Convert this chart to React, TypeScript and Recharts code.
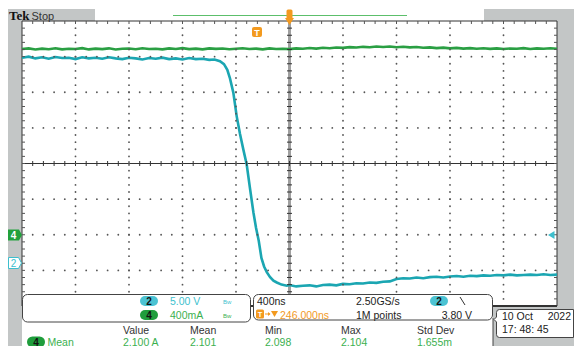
import React from "react";
import { ComposedChart, Line, XAxis, YAxis, ReferenceLine, Scatter } from "recharts";

// ---- Channel 2 (voltage, 5.00 V/div) ----
const ch2TimeNs = [
  0, 50, 100, 150, 200, 250, 300, 350, 400, 450, 500, 550, 600, 650, 700, 750, 800, 850, 900, 950,
  1000, 1050, 1100, 1150, 1200, 1250, 1300, 1350, 1400, 1440, 1480, 1510, 1535, 1555, 1580, 1605,
  1630, 1655, 1680, 1705, 1730, 1750, 1770, 1790, 1810, 1830, 1855, 1880, 1905, 1940, 1980, 2000,
  2050, 2100, 2150, 2200, 2250, 2300, 2350, 2400, 2450, 2500, 2550, 2600, 2650, 2700, 2750, 2800,
  2850, 2900, 2950, 3000, 3050, 3100, 3150, 3200, 3250, 3300, 3350, 3400, 3450, 3500, 3550, 3600,
  3650, 3700, 3750, 3800, 3850, 3900, 3950, 4000,
];
const ch2Volts = [
  28.7, 28.85, 28.6, 28.75, 28.55, 28.8, 28.65, 28.7, 28.5, 28.75, 28.6, 28.7, 28.55, 28.75, 28.6, 28.5, 28.7, 28.6, 28.45, 28.65,
  28.55, 28.7, 28.5, 28.6, 28.45, 28.65, 28.5, 28.55, 28.4, 28.45, 28.2, 27.8, 27.0, 25.8, 23.8, 20.5,
  18.0, 15.8, 13.7, 10.3, 7.0, 4.8, 3.0, 0.6, -0.6, -1.4, -2.1, -2.6, -2.85, -3.15, -3.3, -3.2,
  -3.4, -3.3, -3.25, -3.4, -3.2, -3.15, -3.25, -3.05, -3.1, -2.95, -3.0, -2.85, -2.9, -2.75, -2.7, -2.35,
  -2.25, -2.3, -2.15, -2.25, -2.1, -2.05, -2.15, -2.0, -1.95, -2.05, -1.9, -1.95, -1.85, -1.9, -1.8, -1.85,
  -1.75, -1.85, -1.8, -1.75, -1.8, -1.7, -1.8, -1.75,
];

// ---- Channel 4 (current, 400 mA/div) ----
const ch4TimeNs = [
  0, 50, 100, 150, 200, 250, 300, 350, 400, 450, 500, 550, 600, 650, 700, 750, 800, 850, 900, 950,
  1000, 1050, 1100, 1150, 1200, 1250, 1300, 1350, 1400, 1450, 1500, 1550, 1600, 1650, 1700, 1750,
  1800, 1850, 1900, 1950, 2000, 2050, 2100, 2150, 2200, 2250, 2300, 2350, 2400, 2450, 2500, 2550,
  2600, 2650, 2700, 2750, 2800, 2850, 2900, 2950, 3000, 3050, 3100, 3150, 3200, 3250, 3300, 3350,
  3400, 3450, 3500, 3550, 3600, 3650, 3700, 3750, 3800, 3850, 3900, 3950, 4000,
];
const ch4Amps = [
  2.085, 2.092, 2.080, 2.090, 2.083, 2.094, 2.082, 2.089, 2.086, 2.095, 2.081, 2.090, 2.084, 2.093, 2.080, 2.088, 2.091, 2.083, 2.094, 2.085,
  2.089, 2.081, 2.092, 2.086, 2.095, 2.084, 2.090, 2.082, 2.093, 2.087, 2.091, 2.083, 2.089, 2.094, 2.085, 2.090,
  2.082, 2.092, 2.086, 2.089, 2.084, 2.093, 2.088, 2.096, 2.090, 2.099, 2.094, 2.103, 2.098, 2.107, 2.102, 2.110,
  2.105, 2.113, 2.108, 2.114, 2.106, 2.111, 2.104, 2.108, 2.100, 2.104, 2.096, 2.101, 2.093, 2.098, 2.090, 2.095,
  2.088, 2.094, 2.087, 2.093, 2.085, 2.092, 2.088, 2.095, 2.086, 2.093, 2.089, 2.094, 2.088,
];

// ---- Graticule (10 x 8 divisions, 400 ns/div) ----
const timeDomain = [0, 4000];
const divDomain = [-4, 4];
const ch2Domain = [-6.15, 33.85];
const ch4Domain = [-0.8, 2.4];
const majorTimeTicks = [400, 800, 1200, 1600, 2400, 2800, 3200, 3600];
const majorDivTicks = [-3, -2, -1, 1, 2, 3];
const minorTimeTicks = Array.from({ length: 49 }, (_, i) => (i + 1) * 80);
const minorDivTicks = Array.from({ length: 39 }, (_, i) => Math.round((-4 + (i + 1) * 0.2) * 10) / 10);

// ---- Readouts ----
const measureHeaders = ["Value", "Mean", "Min", "Max", "Std Dev"];
const measureValues = ["2.100 A", "2.101", "2.098", "2.104", "1.655m"];

const ch2Data = ch2TimeNs.map((t, i) => ({ t, v: ch2Volts[i] }));
const ch4Data = ch4TimeNs.map((t, i) => ({ t, a: ch4Amps[i] }));
const topTicks = minorTimeTicks.map((t) => ({ t, d: 4 }));
const centerHTicks = minorTimeTicks.map((t) => ({ t, d: 0 }));
const leftTicks = minorDivTicks.map((d) => ({ t: 0, d }));
const rightTicks = minorDivTicks.map((d) => ({ t: 4000, d }));
const centerVTicks = minorDivTicks.map((d) => ({ t: 2000, d }));
const vGridDots = majorTimeTicks.flatMap((t) => minorDivTicks.map((d) => ({ t, d })));
const hGridDots = majorDivTicks.flatMap((d) => minorTimeTicks.map((t) => ({ t, d })));

const GREY = "#c3c6c6";
const CYAN = "#1ba6b2";
const GREEN = "#2a9f43";
const CYAN_TXT = "#3dbfce";
const GREEN_TXT = "#3bb04f";
const ORANGE = "#f39a1f";
const FONT = "'Liberation Sans', Arial, sans-serif";
const TICK = "#555";
const DOT = "#555";

const tickDown = (p: any) => <line x1={p.cx} y1={p.cy} x2={p.cx} y2={p.cy + 3} stroke={TICK} strokeWidth={1} />;
const tickRight = (p: any) => <line x1={p.cx} y1={p.cy} x2={p.cx + 3} y2={p.cy} stroke={TICK} strokeWidth={1} />;
const tickLeft = (p: any) => <line x1={p.cx - 3} y1={p.cy} x2={p.cx} y2={p.cy} stroke={TICK} strokeWidth={1} />;
const tickV = (p: any) => <line x1={p.cx} y1={p.cy - 2.5} x2={p.cx} y2={p.cy + 2.5} stroke="#333" strokeWidth={1} />;
const tickH = (p: any) => <line x1={p.cx - 2.5} y1={p.cy} x2={p.cx + 2.5} y2={p.cy} stroke="#333" strokeWidth={1} />;
const gridDot = (p: any) => <circle cx={p.cx} cy={p.cy} r={0.9} fill={DOT} stroke="none" />;

function Background() {
  return (
    <svg width={574} height={346} style={{ position: "absolute", left: 0, top: 0 }}>
      <rect x={0} y={0} width={574} height={346} fill="#fff" />
      <rect x={8} y={9} width={566} height={337} fill={GREY} />
      <rect x={95} y={9} width={389} height={12} fill="#fff" />
      <rect x={22} y={21} width={535} height={285} fill="#fff" />
      <rect x={22} y={306} width={471} height={40} fill="#fff" />
    </svg>
  );
}

function Overlay() {
  const hx = [123, 190, 265, 341, 417];
  return (
    <svg width={574} height={346} style={{ position: "absolute", left: 0, top: 0 }}>
      {/* top bar */}
      <text x={9} y={20} fontFamily="'Liberation Serif', serif" fontWeight="bold" fontSize={13} fill="#111">Tek</text>
      <text x={31.5} y={19.5} fontFamily={FONT} fontSize={11} fill="#333">Stop</text>
      <line x1={173} y1={15.5} x2={407} y2={15.5} stroke="#5cbf6b" strokeWidth={1} />
      {/* trigger position marker */}
      <rect x={286.5} y={9.5} width={6} height={10} rx={1.5} fill={ORANGE} />
      <path d="M285,18 L294,18 L289.5,25 Z" fill={ORANGE} />
      <rect x={252} y={27} width={10} height={10} rx={2} fill={ORANGE} />
      <text x={257} y={35.5} textAnchor="middle" fontFamily={FONT} fontWeight="bold" fontSize={9} fill="#fff">T</text>
      {/* channel markers */}
      <path d="M8,229.5 L19,229.5 L22,235 L19,240.5 L8,240.5 Z" fill="#22a13c" />
      <text x={13.5} y={239} textAnchor="middle" fontFamily={FONT} fontWeight="bold" fontSize={10} fill="#fff">4</text>
      <path d="M8.5,257.5 L18.5,257.5 L21.5,263 L18.5,268.5 L8.5,268.5 Z" fill="#fff" stroke={CYAN_TXT} />
      <text x={13.5} y={267} textAnchor="middle" fontFamily={FONT} fontSize={10} fill={CYAN_TXT}>2</text>
      <path d="M548,235 L554.5,231 L554.5,239 Z" fill={CYAN_TXT} />

      {/* measurement table frame */}
      <line x1={493} y1={318} x2={493} y2={346} stroke="#444" />

      {/* panel 1: channel settings */}
      <rect x={22.5} y={294.5} width={228} height={27.5} rx={5} fill="#fff" stroke="#444" />
      <rect x={140} y={296} width={18} height={10} rx={5} fill="#4cc3d3" />
      <text x={149} y={304.5} textAnchor="middle" fontFamily={FONT} fontWeight="bold" fontSize={10} fill="#111">2</text>
      <text x={170} y={305} fontFamily={FONT} fontSize={10.5} fill={CYAN_TXT}>5.00 V</text>
      <text x={223} y={304} fontFamily={FONT} fontSize={6} fill={CYAN_TXT}>Bw</text>
      <rect x={140} y={310} width={18} height={10} rx={5} fill="#1f9d3c" />
      <text x={149} y={318.5} textAnchor="middle" fontFamily={FONT} fontWeight="bold" fontSize={10} fill="#111">4</text>
      <text x={170} y={319} fontFamily={FONT} fontSize={10.5} fill={GREEN_TXT}>400mA</text>
      <text x={223} y={318} fontFamily={FONT} fontSize={6} fill={GREEN_TXT}>Bw</text>

      {/* panel 2: horizontal / trigger */}
      <rect x={253.5} y={294.5} width={239} height={25.5} rx={5} fill="#fff" stroke="#444" />
      <text x={257} y={305} fontFamily={FONT} fontSize={10.5} fill="#222">400ns</text>
      <rect x={256} y={309.5} width={8} height={9} rx={1.5} fill={ORANGE} />
      <text x={260} y={317} textAnchor="middle" fontFamily={FONT} fontWeight="bold" fontSize={7.5} fill="#fff">T</text>
      <line x1={265} y1={314} x2={270} y2={314} stroke={ORANGE} />
      <path d="M268,312 L270.5,314 L268,316 Z" fill={ORANGE} />
      <path d="M271,311 L278,311 L274.5,317 Z" fill={ORANGE} />
      <text x={280} y={318.5} fontFamily={FONT} fontSize={10.5} fill={ORANGE}>246.000ns</text>
      <text x={356} y={305} fontFamily={FONT} fontSize={10.5} fill="#222">2.50GS/s</text>
      <text x={356} y={318.5} fontFamily={FONT} fontSize={10.5} fill="#222">1M points</text>
      <rect x={430} y={296} width={18} height={10} rx={5} fill="#4cc3d3" />
      <text x={439} y={304.5} textAnchor="middle" fontFamily={FONT} fontWeight="bold" fontSize={10} fill="#111">2</text>
      <line x1={460} y1={297} x2={465} y2={305} stroke="#333" />
      <text x={472} y={318.5} textAnchor="end" fontFamily={FONT} fontSize={10.5} fill="#222">3.80 V</text>

      {/* date box */}
      <path d="M499.5,309.5 L573.5,309.5 L573.5,337.5 L499.5,337.5 Q496.5,337.5 496.5,334.5 L496.5,322 L494,319.5 L496.5,317 L496.5,312.5 Q496.5,309.5 499.5,309.5 Z" fill="#fff" stroke="#444" />
      <text x={502} y={320} fontFamily={FONT} fontSize={10.5} fill="#222">10 Oct</text>
      <text x={571} y={320} textAnchor="end" fontFamily={FONT} fontSize={10.5} fill="#222">2022</text>
      <text x={502} y={333} fontFamily={FONT} fontSize={10.5} fill="#222">17: 48: 45</text>

      {/* measurement table */}
      {measureHeaders.map((h, i) => (
        <text key={h} x={hx[i]} y={334} fontFamily={FONT} fontSize={10.5} fill="#333">{h}</text>
      ))}
      <rect x={27} y={336.5} width={18} height={11} rx={5.5} fill="#1f9d3c" />
      <text x={36} y={345.5} textAnchor="middle" fontFamily={FONT} fontWeight="bold" fontSize={10} fill="#111">4</text>
      <text x={47.5} y={346} fontFamily={FONT} fontSize={10.5} fill={GREEN_TXT}>Mean</text>
      {measureValues.map((v, i) => (
        <text key={i} x={hx[i]} y={346} fontFamily={FONT} fontSize={10.5} fill={GREEN_TXT}>{v}</text>
      ))}
    </svg>
  );
}

export default function App() {
  return (
    <div style={{ position: "absolute", left: 0, top: 0, width: 574, height: 346, overflow: "hidden" }}>
      <Background />
      <div style={{ position: "absolute", left: 0, top: 0 }}>
        <ComposedChart width={574} height={346} margin={{ top: 21, right: 17, bottom: 40, left: 22 }}>
          <XAxis xAxisId="t" dataKey="t" type="number" domain={timeDomain} allowDataOverflow hide />
          <YAxis yAxisId="div" dataKey="d" type="number" domain={divDomain} allowDataOverflow hide />
          <YAxis yAxisId="v2" type="number" domain={ch2Domain} allowDataOverflow hide />
          <YAxis yAxisId="a4" type="number" domain={ch4Domain} allowDataOverflow hide />

          <ReferenceLine x={2000} xAxisId="t" yAxisId="div" stroke="#a0a0a0" strokeWidth={3} />
          <ReferenceLine y={0} xAxisId="t" yAxisId="div" stroke="#333" />
          <ReferenceLine y={4} xAxisId="t" yAxisId="div" stroke="#333" />
          <ReferenceLine y={-4} xAxisId="t" yAxisId="div" stroke="#333" strokeWidth={2} />
          <ReferenceLine x={0} xAxisId="t" yAxisId="div" stroke="#333" />
          <ReferenceLine x={4000} xAxisId="t" yAxisId="div" stroke="#333" />

          <Scatter data={topTicks} xAxisId="t" yAxisId="div" shape={tickDown} isAnimationActive={false} />
          <Scatter data={leftTicks} xAxisId="t" yAxisId="div" shape={tickRight} isAnimationActive={false} />
          <Scatter data={rightTicks} xAxisId="t" yAxisId="div" shape={tickLeft} isAnimationActive={false} />
          <Scatter data={centerHTicks} xAxisId="t" yAxisId="div" shape={tickV} isAnimationActive={false} />
          <Scatter data={centerVTicks} xAxisId="t" yAxisId="div" shape={tickH} isAnimationActive={false} />
          <Scatter data={vGridDots} xAxisId="t" yAxisId="div" shape={gridDot} isAnimationActive={false} />
          <Scatter data={hGridDots} xAxisId="t" yAxisId="div" shape={gridDot} isAnimationActive={false} />

          <Line data={ch4Data} dataKey="a" xAxisId="t" yAxisId="a4" type="linear" stroke={GREEN} strokeWidth={2.6} dot={false} isAnimationActive={false} />
          <Line data={ch2Data} dataKey="v" xAxisId="t" yAxisId="v2" type="linear" stroke={CYAN} strokeWidth={2.6} dot={false} isAnimationActive={false} />
        </ComposedChart>
      </div>
      <Overlay />
    </div>
  );
}
